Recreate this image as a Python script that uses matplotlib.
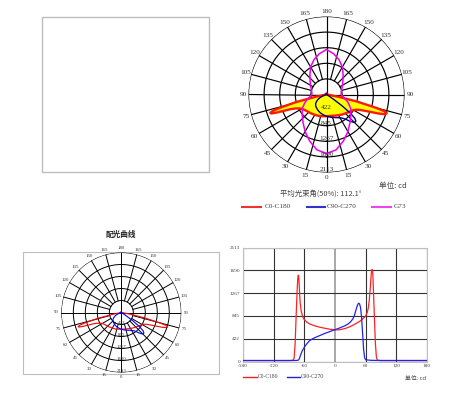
import numpy as np
import matplotlib
matplotlib.use("Agg")
import matplotlib.pyplot as plt
from matplotlib.lines import Line2D
from matplotlib.patches import Rectangle

# ---------------- data ----------------
# C0-C180 (negative angles = C180 side)
c0_angles = [-180, -150, -120, -90, -84, -82, -80, -78, -76, -74, -73, -72, -71, -70, -69, -68, -66,
             -64, -62, -60, -55, -50, -40, -30, -20, -10, 0, 5, 10, 20, 30, 40, 50, 55, 60, 63,
             65, 67, 69, 70, 71, 72, 73, 74, 75, 77, 79, 81, 83, 90, 120, 150, 180]
c0_values = [18, 18, 18, 18, 20, 26, 60, 330, 850, 1330, 1520, 1600, 1580, 1420, 1220, 1070, 930,
             860, 810, 775, 728, 698, 662, 636, 616, 598, 588, 586, 590, 612, 648, 698, 755, 795, 845, 905,
             985, 1130, 1360, 1510, 1630, 1695, 1705, 1620, 1370, 840, 340, 80, 24, 18, 18, 18, 18]

# C90-C270
c90_angles = [-180, -150, -120, -90, -74, -71, -69, -67, -64, -60, -55, -50, -45, -40, -30, -20, -10,
              0, 10, 20, 25, 30, 35, 38, 41, 44, 46, 48, 50, 52, 54, 56, 58, 60, 70, 90, 120, 150, 180]
c90_values = [18, 18, 18, 18, 20, 30, 70, 130, 200, 265, 330, 385, 415, 440, 480, 520, 555,
              590, 625, 665, 692, 730, 790, 855, 955, 1045, 1080, 1070, 1000, 820, 520, 220, 70, 32, 22, 18, 18, 18, 18]

# G73 (C-plane angle vs intensity)
g73_angles = [0, 10, 20, 30, 40, 50, 60, 70, 80, 90, 100, 110, 120, 130, 140, 150, 160, 170, 180]
g73_values = [1600, 1520, 1340, 1160, 990, 860, 760, 620, 480, 395, 405, 440, 500, 580, 700, 860, 1000, 1120, 1220]

ring_labels = ['422', '845', '1267', '1690', '2113']
max_cd = 2113
x_ticks = [-180, -120, -60, 0, 60, 120, 180]

# ---------------- figure ----------------
fig = plt.figure(figsize=(4.49, 3.97), dpi=100)
SERIF = 'Liberation Serif'
CJK = ['Noto Sans CJK SC', 'DejaVu Sans']

# top-left empty frame
fig.add_artist(Rectangle((42 / 449, 1 - 172 / 397), (209 - 42) / 449, (172 - 17) / 397,
                         transform=fig.transFigure, fill=False, edgecolor='#bdbdbd', lw=1.0))
# bottom-left frame
fig.add_artist(Rectangle((23 / 449, 1 - 374 / 397), (219 - 23) / 449, (374 - 252) / 397,
                         transform=fig.transFigure, fill=False, edgecolor='#bdbdbd', lw=0.8, zorder=0))


def polar_grid(ax, lw, fs, lab_r=1.07):
    ax.set_theta_zero_location('S')
    ax.set_theta_direction(1)
    ax.set_ylim(0, max_cd)
    ax.grid(False)
    ax.set_xticks([])
    ax.set_yticks([])
    ax.spines['polar'].set_visible(False)
    ax.patch.set_alpha(0)
    step = max_cd / 5
    th = np.linspace(0, 2 * np.pi, 361)
    for k in range(1, 6):
        ax.plot(th, np.full_like(th, k * step), color='black', lw=lw, zorder=1)
    for a in range(0, 360, 15):
        r0 = 0 if a % 90 == 0 else step
        ax.plot([np.radians(a)] * 2, [r0, max_cd], color='black', lw=lw, zorder=1)
        lbl = a if a <= 180 else 360 - a
        ax.text(np.radians(a), lab_r * max_cd, str(lbl), ha='center', va='center',
                fontsize=fs, family=SERIF, color='#333333', clip_on=False)
    for k, lab in enumerate(ring_labels, start=1):
        ax.text(0, k * step, lab, ha='center', va='bottom', fontsize=fs,
                family=SERIF, color='#333333', zorder=5)


# ---- top polar ----
axp = fig.add_axes([248.5 / 449, 1 - 172.5 / 397, 156 / 449, 156 / 397], projection='polar')
polar_grid(axp, 0.85, 5.2)
t_c0 = np.radians(c0_angles)
t_c90 = np.radians(c90_angles)
axp.fill(t_c0, c0_values, facecolor='#ffff00', edgecolor='none', zorder=2)
axp.plot(t_c0, c0_values, color='#ff1a00', lw=1.7, zorder=3)
axp.plot(t_c90, c90_values, color='#000088', lw=1.0, zorder=3)
g_theta = np.radians(g73_angles + [360 - a for a in g73_angles[::-1]])
g_vals = g73_values + g73_values[::-1]
axp.plot(g_theta, g_vals, color='#ee00ee', lw=1.1, zorder=3)

fig.text(379 / 449, 1 - 185.7 / 397, '单位: cd', family=CJK, fontsize=5.5, color='#444444',
         ha='left', va='center')
fig.text(280 / 449, 1 - 193.3 / 397, '平均光束角(50%): 112.1°', family=CJK, fontsize=5.3,
         color='#444444', ha='left', va='center')

ly = 1 - 206.7 / 397
for x0, x1, col, tx, lab in [(242, 261, '#ee3333', 265, 'C0-C180'),
                              (307, 325, '#3333cc', 327, 'C90-C270'),
                              (372, 391, '#ee44ee', 394, 'G73')]:
    fig.add_artist(Line2D([x0 / 449, x1 / 449], [ly, ly], color=col, lw=1.5,
                          transform=fig.transFigure))
    fig.text(tx / 449, ly, lab, family=SERIF, fontsize=5.2, color='#444444',
             ha='left', va='center')

# ---- bottom-left polar ----
fig.text(121.3 / 449, 1 - 234 / 397, '配光曲线', family=CJK, fontsize=5.5, fontweight='bold',
         color='#222222', ha='center', va='center')
axq = fig.add_axes([61.3 / 449, 1 - 372.5 / 397, 120 / 449, 120 / 397], projection='polar')
polar_grid(axq, 0.7, 3.5, lab_r=1.08)
axq.plot(t_c0, c0_values, color='#ff0000', lw=0.8, zorder=3)
axq.plot(t_c90, c90_values, color='#0000ff', lw=0.8, zorder=3)

# ---- bottom-right cartesian ----
axc = fig.add_axes([243 / 449, 1 - 361.5 / 397, 184 / 449, 114 / 397])
axc.plot(c0_angles, c0_values, color='#ff2222', lw=0.9, zorder=3)
axc.plot(c90_angles, c90_values, color='#2222ee', lw=0.9, zorder=3)
axc.set_xlim(-180, 180)
axc.set_ylim(0, max_cd)
axc.set_xticks(x_ticks)
axc.set_xticklabels([str(v) for v in x_ticks])
yt = [0] + [k * max_cd / 5 for k in range(1, 6)]
axc.set_yticks(yt)
axc.set_yticklabels(['0'] + ring_labels)
axc.tick_params(length=0, pad=2, labelsize=3.8, labelcolor='#444444')
for lab in axc.get_xticklabels() + axc.get_yticklabels():
    lab.set_family(SERIF)
axc.grid(True, color='#333333', lw=0.8)
for i, gl in enumerate(axc.get_xgridlines()):
    if x_ticks[i] == 0:
        gl.set_color('#9a9a9a')
        gl.set_linewidth(1.2)
for s in axc.spines.values():
    s.set_color('#c0c0c0')
    s.set_linewidth(0.8)

ly2 = 1 - 376.7 / 397
for x0, x1, col, tx, lab in [(243.3, 256.7, '#ee2222', 257.5, 'C0-C180'),
                              (287.3, 300, '#2222dd', 300.3, 'C90-C270')]:
    fig.add_artist(Line2D([x0 / 449, x1 / 449], [ly2, ly2], color=col, lw=1.0,
                          transform=fig.transFigure))
    fig.text(tx / 449, ly2, lab, family=SERIF, fontsize=4.0, color='#444444',
             ha='left', va='center')
fig.text(405 / 449, 1 - 378 / 397, '单位: cd', family=CJK, fontsize=4.2, color='#444444',
         ha='left', va='center')

fig.savefig('out.png', dpi=100)
